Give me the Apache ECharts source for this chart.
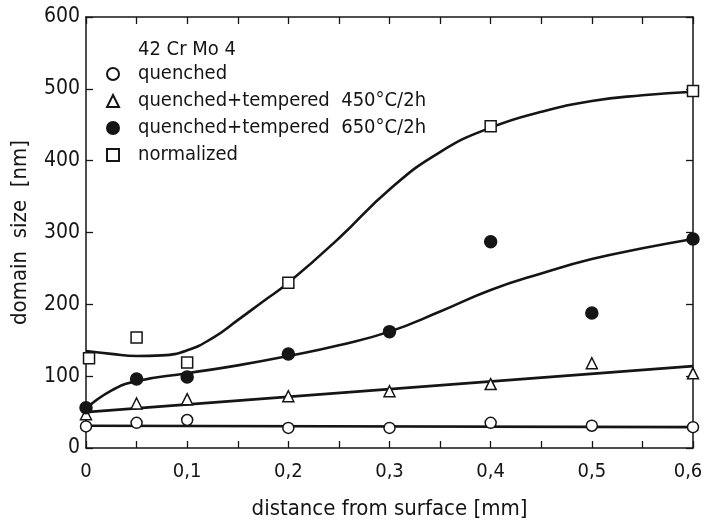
<!DOCTYPE html>
<html>
<head>
<meta charset="utf-8">
<script src="https://cdn.jsdelivr.net/npm/echarts@6/dist/echarts.min.js"></script>
<style>
  html, body { margin: 0; padding: 0; background: #fff; }
  #chart { width: 705px; height: 524px; }
</style>
</head>
<body>
<div id="chart"></div>
<script>
// measured points
const distances = [0, 0.05, 0.1, 0.2, 0.3, 0.4, 0.5, 0.6]
const quenched = [30, 35, 39, 28, 28, 35, 31, 29]
const tempered450 = [47, 62, 68, 72, 79, 89, 118, 104]
const tempered650 = [56, 96, 99, 131, 162, 287, 188, 291]
const normalizedX = [0.003, 0.05, 0.1, 0.2, 0.4, 0.6]
const normalized = [125, 154, 119, 230, 448, 497]

// hand-drawn trend curves
const quenchedFitX = [0, 0.6]
const quenchedFit = [31, 29]
const tempered450FitX = [0, 0.6]
const tempered450Fit = [50, 114]
const tempered650FitX = [0, 0.025, 0.05, 0.1, 0.15, 0.2, 0.25, 0.3, 0.35, 0.4, 0.45, 0.5, 0.55, 0.6]
const tempered650Fit = [55, 80, 93, 104, 115, 128, 143, 162, 190, 220, 243, 263, 278, 291]
const normalizedFitX = [0, 0.025, 0.05, 0.075, 0.1, 0.125, 0.15, 0.175, 0.2, 0.25, 0.3, 0.35, 0.4, 0.45, 0.5, 0.55, 0.6]
const normalizedFit = [135, 131, 128, 129, 136, 153, 178, 204, 230, 292, 360, 412, 446, 468, 483, 491, 496]

const seriesNames = [
  'quenched',
  'quenched+tempered  450°C/2h',
  'quenched+tempered  650°C/2h',
  'normalized'
]

const FONT = '"DejaVu Sans Condensed", "DejaVu Sans", sans-serif'
const INK = '#151515'

const zip = (xs, ys) => xs.map((x, i) => [x, ys[i]])

const fitLine = (xs, ys, smooth) => ({
  type: 'line',
  data: zip(xs, ys),
  smooth: smooth,
  symbol: 'none',
  silent: true,
  z: 2,
  lineStyle: { color: INK, width: 2.6 }
})

const points = (name, xs, ys, symbol, filled, size) => ({
  name: name,
  type: 'scatter',
  data: zip(xs, ys),
  symbol: symbol,
  symbolSize: size,
  z: 5,
  itemStyle: {
    color: filled ? INK : '#fff',
    borderColor: INK,
    borderWidth: 1.5,
    opacity: 1
  }
})

const chart = echarts.init(document.getElementById('chart'))

const axisLine = { show: true, onZero: false, lineStyle: { color: INK, width: 1.5 } }
const axisTick = { show: true, inside: true, length: 7, lineStyle: { color: INK, width: 1.3 } }

// decimal comma; the last label is nudged left so it stays on the canvas
const xLabel = v => {
  const s = String(+v.toFixed(1)).replace('.', ',')
  return v >= 0.6 ? '{last|' + s + '}' : s
}

const option = {
  animation: false,
  backgroundColor: '#fff',
  textStyle: { fontFamily: FONT, color: INK },
  title: {
    text: '42 Cr Mo 4',
    left: 133,
    top: 35,
    textStyle: { fontFamily: FONT, fontSize: 20, fontWeight: 'normal', color: INK }
  },
  legend: {
    data: seriesNames,
    orient: 'vertical',
    left: 101,
    top: 59,
    itemWidth: 12,
    itemHeight: 12,
    itemGap: 7,
    textStyle: { fontFamily: FONT, fontSize: 20, color: INK, padding: [0, 0, 0, 14] },
    selectedMode: false
  },
  grid: { left: 86, right: 12, top: 17, bottom: 76, outerBoundsMode: 'none', containLabel: false },
  xAxis: [
    {
      type: 'value',
      position: 'bottom',
      min: 0,
      max: 0.6,
      interval: 0.1,
      name: 'distance from surface [mm]',
      nameLocation: 'middle',
      nameGap: 50,
      nameTextStyle: { fontFamily: FONT, fontSize: 22, color: INK },
      minorTick: { show: true, splitNumber: 2, length: 7, lineStyle: { color: INK, width: 1.3 } },
      axisLabel: {
        margin: 14,
        fontFamily: FONT,
        fontSize: 20,
        color: INK,
        formatter: xLabel,
        rich: {
          last: { fontFamily: FONT, fontSize: 20, color: INK, padding: [0, 10, 0, 0] }
        }
      },
      axisLine: axisLine,
      axisTick: axisTick,
      splitLine: { show: false }
    },
    {
      type: 'value',
      position: 'top',
      min: 0,
      max: 0.6,
      interval: 0.05,
      axisLabel: { show: false },
      axisLine: axisLine,
      axisTick: axisTick,
      splitLine: { show: false }
    }
  ],
  yAxis: [
    {
      type: 'value',
      position: 'left',
      min: 0,
      max: 600,
      interval: 100,
      name: 'domain  size  [nm]',
      nameLocation: 'middle',
      nameGap: 55,
      nameTextStyle: { fontFamily: FONT, fontSize: 22, color: INK },
      axisLabel: { margin: 6, fontFamily: FONT, fontSize: 21, color: INK },
      axisLine: axisLine,
      axisTick: axisTick,
      splitLine: { show: false }
    },
    {
      type: 'value',
      position: 'right',
      min: 0,
      max: 600,
      interval: 100,
      axisLabel: { show: false },
      axisLine: axisLine,
      axisTick: axisTick,
      splitLine: { show: false }
    }
  ],
  series: [
    fitLine(quenchedFitX, quenchedFit, false),
    fitLine(tempered450FitX, tempered450Fit, false),
    fitLine(tempered650FitX, tempered650Fit, true),
    fitLine(normalizedFitX, normalizedFit, true),
    points(seriesNames[0], distances, quenched, 'circle', false, 11),
    points(seriesNames[1], distances, tempered450, 'triangle', false, 11),
    points(seriesNames[2], distances, tempered650, 'circle', true, 12),
    points(seriesNames[3], normalizedX, normalized, 'rect', false, 11)
  ]
}

chart.setOption(option)
</script>
</body>
</html>
